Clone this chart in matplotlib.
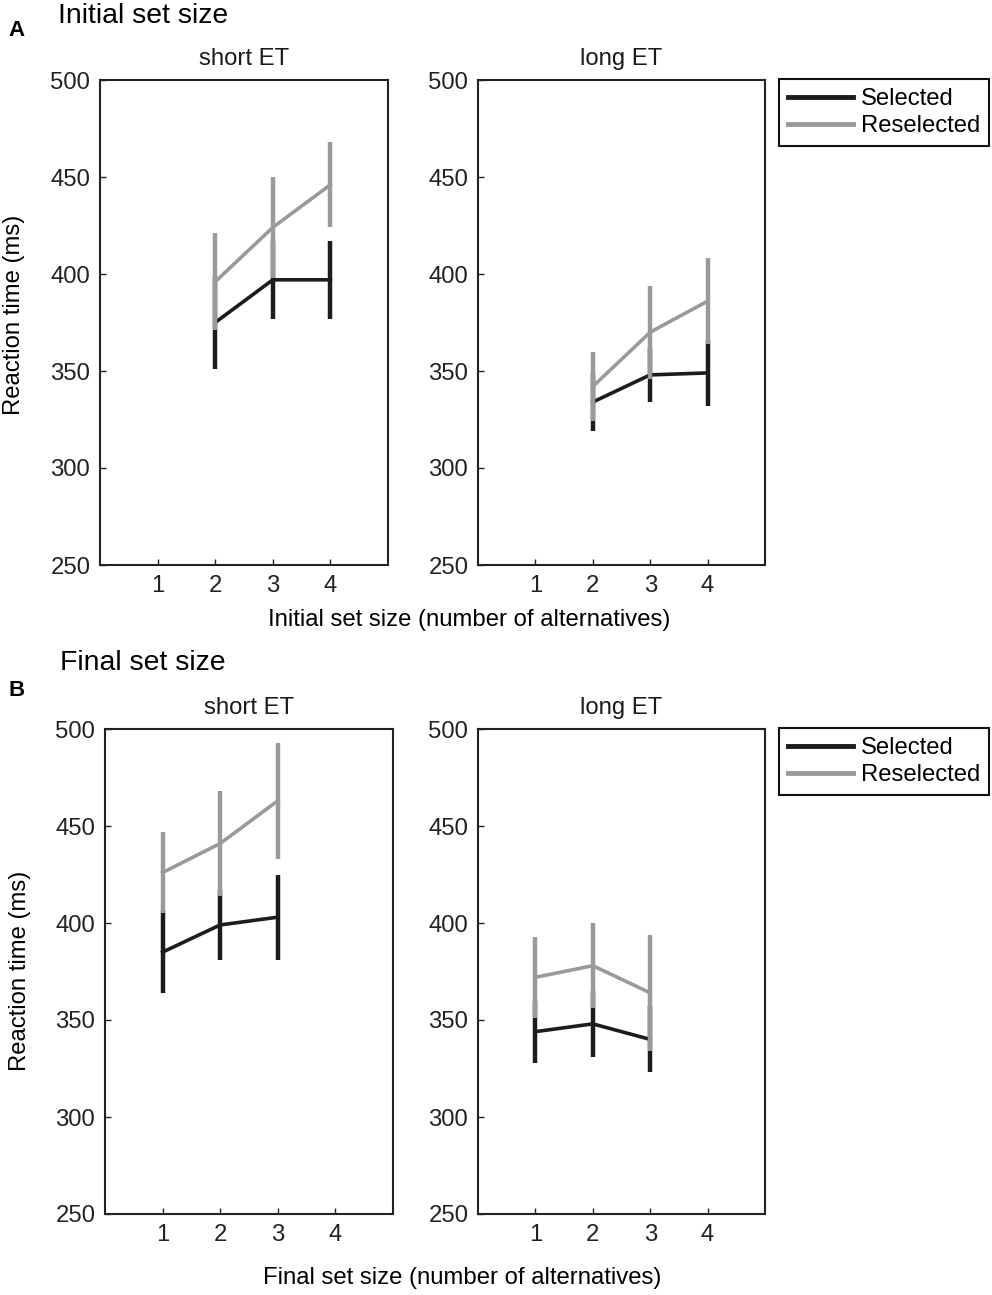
import matplotlib
matplotlib.use('Agg')
import matplotlib.pyplot as plt

plt.rcParams['font.family'] = ['Liberation Sans', 'DejaVu Sans']

# x positions (set sizes)
initial_x = [2, 3, 4]
final_x = [1, 2, 3]

# panel A: initial set size
init_short_sel = [375, 397, 397]
init_short_sel_err = [24, 20, 20]
init_short_res = [396, 424, 446]
init_short_res_err = [25, 26, 22]
init_long_sel = [334, 348, 349]
init_long_sel_err = [15, 14, 17]
init_long_res = [342, 370, 386]
init_long_res_err = [18, 24, 22]

# panel B: final set size
final_short_sel = [385, 399, 403]
final_short_sel_err = [21, 18, 22]
final_short_res = [426, 441, 463]
final_short_res_err = [21, 27, 30]
final_long_sel = [344, 348, 340]
final_long_sel_err = [16, 17, 17]
final_long_res = [372, 378, 364]
final_long_res_err = [21, 22, 30]

series_names = ['Selected', 'Reselected']
yticks = [250, 300, 350, 400, 450, 500]
xticks = [1, 2, 3, 4]

BLACK = '#1c1c1c'
GRAY = '#9a9a9a'
FS = 17.2

W, H = 992, 1295
fig = plt.figure(figsize=(W / 100, H / 100), dpi=100)


def px_axes(left, top, right, bottom):
    return fig.add_axes([left / W, 1 - bottom / H, (right - left) / W, (bottom - top) / H])


def draw_panel(ax, x, sel, sel_err, res, res_err, title):
    # error bars first, gray on top of black
    ax.errorbar(x, sel, yerr=sel_err, fmt='none', ecolor=BLACK, elinewidth=3.2, capsize=0, zorder=2)
    ax.plot(x, sel, color=BLACK, lw=2.6, label=series_names[0], zorder=2.5)
    ax.errorbar(x, res, yerr=res_err, fmt='none', ecolor=GRAY, elinewidth=3.2, capsize=0, zorder=3)
    ax.plot(x, res, color=GRAY, lw=2.6, label=series_names[1], zorder=3.5)
    ax.set_xlim(0, 5)
    ax.set_ylim(250, 500)
    ax.set_xticks(xticks)
    ax.set_yticks(yticks)
    ax.tick_params(direction='in', length=4, width=1, labelsize=FS, pad=7, colors='#222222')
    for s in ax.spines.values():
        s.set_linewidth(1.5)
        s.set_color('#222222')
    ax.set_title(title, fontsize=FS, pad=11, color='#1a1a1a')


def add_legend(ax, top_px):
    leg = ax.legend(loc='upper left', bbox_to_anchor=(779 / W, 1 - top_px / H),
                    bbox_transform=fig.transFigure, fontsize=FS, frameon=True,
                    fancybox=False, edgecolor='#111111', handlelength=2.7,
                    handletextpad=0.35, labelspacing=0.22, borderpad=0.38,
                    borderaxespad=0, framealpha=1)
    leg.get_frame().set_linewidth(1.5)
    for h in leg.get_lines():
        h.set_linewidth(3.5)


# row A
ax1 = px_axes(100, 80, 388, 565)
ax2 = px_axes(478, 80, 765, 565)
draw_panel(ax1, initial_x, init_short_sel, init_short_sel_err, init_short_res, init_short_res_err, 'short ET')
draw_panel(ax2, initial_x, init_long_sel, init_long_sel_err, init_long_res, init_long_res_err, 'long ET')
add_legend(ax2, 79)

# row B
ax3 = px_axes(105, 729, 393, 1214)
ax4 = px_axes(478, 729, 765, 1214)
draw_panel(ax3, final_x, final_short_sel, final_short_sel_err, final_short_res, final_short_res_err, 'short ET')
draw_panel(ax4, final_x, final_long_sel, final_long_sel_err, final_long_res, final_long_res_err, 'long ET')
add_legend(ax4, 728)

# headings and labels
fig.text(58 / W, 1 - 16 / H, 'Initial set size', fontsize=20.4, va='center', ha='left')
fig.text(8 / W, 1 - 30 / H, 'A', fontsize=16, fontweight='bold', va='center', ha='left')
fig.text(60 / W, 1 - 663 / H, 'Final set size', fontsize=20.4, va='center', ha='left')
fig.text(8 / W, 1 - 691 / H, 'B', fontsize=16, fontweight='bold', va='center', ha='left')

fig.text(469 / W, 1 - 620 / H, 'Initial set size (number of alternatives)', fontsize=FS,
         ha='center', va='center')
fig.text(462 / W, 1 - 1278 / H, 'Final set size (number of alternatives)', fontsize=FS,
         ha='center', va='center')
fig.text(14 / W, 1 - 315 / H, 'Reaction time (ms)', fontsize=FS, rotation=90,
         ha='center', va='center')
fig.text(20 / W, 1 - 971 / H, 'Reaction time (ms)', fontsize=FS, rotation=90,
         ha='center', va='center')

fig.savefig('out.png', dpi=100)
